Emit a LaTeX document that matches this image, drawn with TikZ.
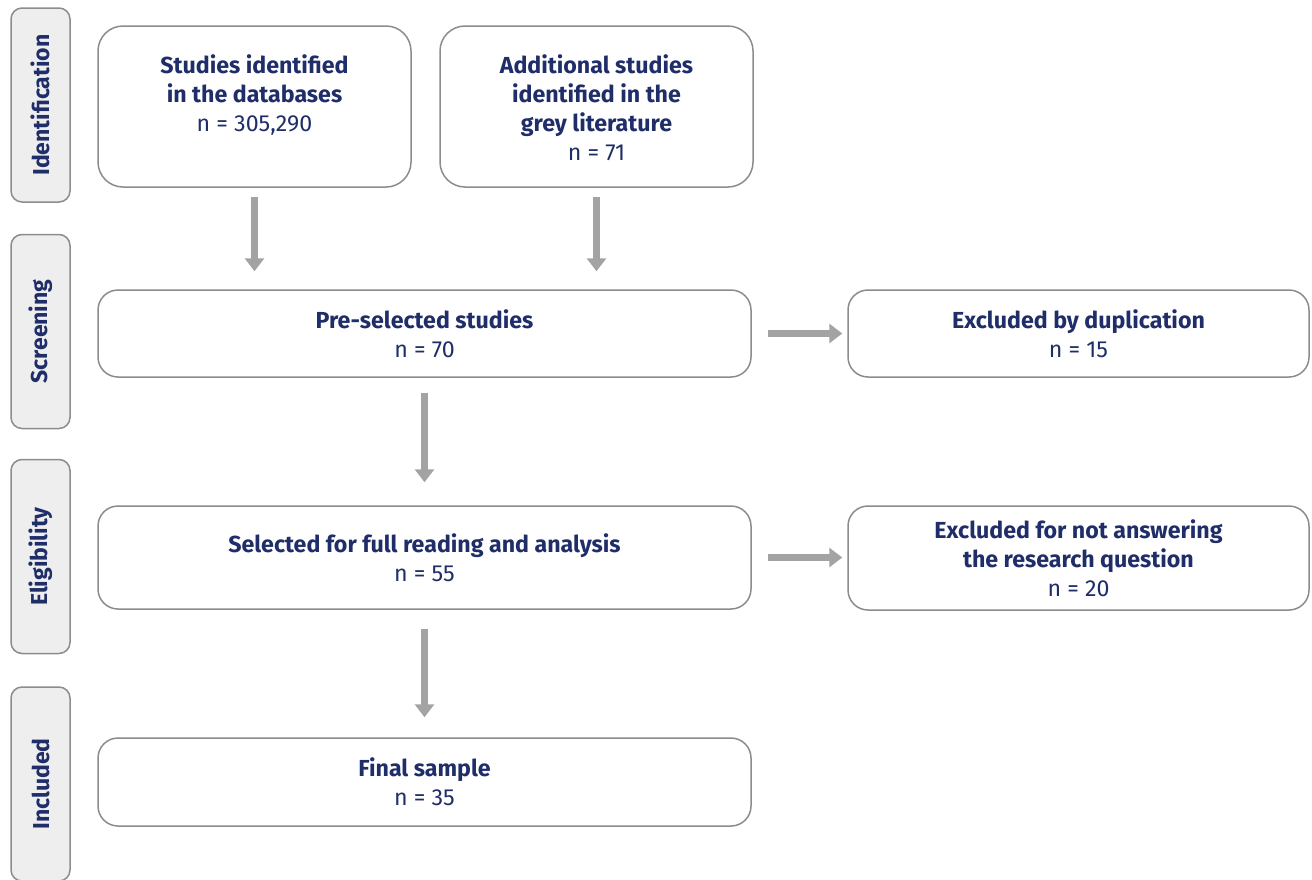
\documentclass[tikz,border=0pt]{standalone}
\usepackage{fontspec}
\setmainfont{Fira Sans}
\usetikzlibrary{positioning,arrows.meta}
\definecolor{navy}{HTML}{1F2D69}
\definecolor{edgegray}{HTML}{8C8C8C}
\definecolor{flowgray}{HTML}{A3A3A3}
\definecolor{stagefill}{HTML}{EEEEEE}
\newcommand{\toptext}[1]{\parbox[t][104pt][t]{300pt}{\centering #1}}
\tikzset{
  stage/.style={draw=edgegray, fill=stagefill, line width=1.5pt, rounded corners=11pt,
    minimum width=194pt, minimum height=59pt, inner sep=0pt, rotate=90,
    text=navy, font=\bfseries\fontsize{23}{26}\selectfont},
  box/.style={draw=edgegray, fill=white, line width=1.5pt, rounded corners=20pt,
    align=center, text=navy, font=\fontsize{23.2}{29}\selectfont},
  topbox/.style={box, rounded corners=25pt, minimum width=313pt, inner ysep=28.5pt},
  flow/.style={draw=flowgray, line width=7pt, -{Triangle[width=19pt,length=13pt]}}
}

\begin{document}
\begin{tikzpicture}[x=1pt,y=-1pt]
\useasboundingbox (0,0) rectangle (1312,879);

\node[stage] (ident) at (40.5,105) {Identification};
\node[stage] (screen) at (40.5,331.5) {Screening};
\node[stage] (elig) at (40.5,556.5) {Eligibility};
\node[stage] (incl) at (40.5,784) {Included};

\node[topbox] (db) at (254.5,106.5)
  {\toptext{\textbf{Studies identified}\\ \textbf{in the databases}\\ n = 305,290}};
\node[topbox] (grey) at (596.5,106.5)
  {\toptext{\textbf{Additional studies}\\ \textbf{identified in the}\\ \textbf{grey literature}\\ n = 71}};

\node[box, minimum width=653pt, minimum height=87pt] (pre) at (424.5,333.5)
  {\textbf{Pre-selected studies}\\ n = 70};
\node[box, minimum width=461pt, minimum height=87pt] (dup) at (1078.5,333.5)
  {\textbf{Excluded by duplication}\\ n = 15};
\node[box, minimum width=653pt, minimum height=103pt] (sel) at (424.5,557.5)
  {\textbf{Selected for full reading and analysis}\\ n = 55};
\node[box, minimum width=461pt, minimum height=104pt] (notq) at (1078.5,558)
  {\textbf{Excluded for not answering}\\ \textbf{the research question}\\ n = 20};
\node[box, minimum width=653pt, minimum height=88pt] (final) at (424.5,782)
  {\textbf{Final sample}\\ n = 35};

\draw[flow, shorten <=9pt, shorten >=18pt] (db.south) -- (db.south |- pre.north);
\draw[flow, shorten <=9pt, shorten >=18pt] (grey.south) -- (grey.south |- pre.north);
\draw[flow, shorten <=15pt, shorten >=23pt] (pre.south) -- (sel.north);
\draw[flow, shorten <=19pt, shorten >=20pt] (sel.south) -- (final.north);
\draw[flow, shorten <=16pt, shorten >=5pt] (pre.east) -- (dup.west);
\draw[flow, shorten <=16pt, shorten >=5pt] (sel.east) -- (sel.east -| notq.west);

\end{tikzpicture}
\end{document}
